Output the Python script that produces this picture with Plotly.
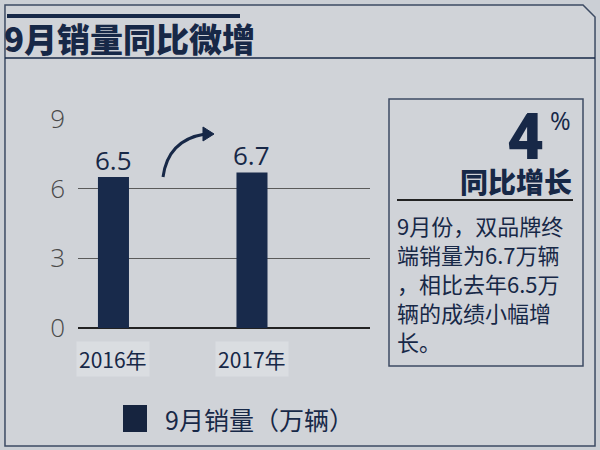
import plotly.graph_objects as go

# data
years = ['2016年', '2017年']
sales = [6.5, 6.7]
value_labels = ['6.5', '6.7']
y_ticks = [0, 3, 6, 9]
series_name = '9月销量（万辆）'
title_text = '9月销量同比微增'
growth_pct = '4'
growth_label = '同比增长'
note_lines = ['9月份，双品牌终', '端销量为6.7万辆', '，相比去年6.5万', '辆的成绩小幅增', '长。']

W, H = 600, 450
NAVY = '#172847'
CJK = 'Noto Sans CJK SC'


def px(x):
    return x / W


def py(y):
    return 1 - y / H


def path(points, close=True):
    s = 'M ' + ' L '.join(f'{px(x):.4f},{py(y):.4f}' for x, y in points)
    return s + (' Z' if close else '')


fig = go.Figure()

fig.add_trace(go.Bar(
    x=years, y=sales,
    marker=dict(color='#182a4b', line=dict(width=0)),
    width=0.224, showlegend=False,
))

shapes = []
# outer frame with the cut corner
shapes.append(dict(type='path', xref='paper', yref='paper',
                   path=path([(5, 5), (583, 5), (595, 17), (595, 446), (5, 446)]),
                   line=dict(color='#3d4b63', width=1.5), fillcolor='#d0d3d8', layer='below'))
# title bars
shapes.append(dict(type='line', xref='paper', yref='paper', x0=px(7), x1=px(240), y0=py(16), y1=py(16),
                   line=dict(color=NAVY, width=4)))
shapes.append(dict(type='line', xref='paper', yref='paper', x0=px(5), x1=px(595), y0=py(58), y1=py(58),
                   line=dict(color=NAVY, width=1.5)))
# right info box
shapes.append(dict(type='rect', xref='paper', yref='paper', x0=px(389), x1=px(583), y0=py(366), y1=py(99),
                   line=dict(color='#3d4b63', width=1.5)))
shapes.append(dict(type='line', xref='paper', yref='paper', x0=px(397), x1=px(573), y0=py(200), y1=py(200),
                   line=dict(color='#222222', width=2)))
# curved arrow
shapes.append(dict(type='path', xref='paper', yref='paper',
                   path=f'M {px(163):.4f},{py(177):.4f} Q {px(168):.4f},{py(140):.4f} {px(205):.4f},{py(134):.4f}',
                   line=dict(color=NAVY, width=3)))
shapes.append(dict(type='path', xref='paper', yref='paper',
                   path=path([(203, 127), (214, 134), (203, 141)]),
                   fillcolor=NAVY, line=dict(color=NAVY, width=1)))
# legend swatch
shapes.append(dict(type='rect', xref='paper', yref='paper', x0=px(123), x1=px(147), y0=py(432), y1=py(405),
                   fillcolor='#16243f', line=dict(width=0)))

annotations = []
annotations.append(dict(text=title_text, x=px(2), y=py(38), xref='paper', yref='paper',
                        xanchor='left', yanchor='middle', showarrow=False,
                        font=dict(size=33, color=NAVY, family=CJK, weight=900)))
# value labels above bars
for yr, v, lab in zip(years, sales, value_labels):
    annotations.append(dict(text=lab, x=yr, y=v, xref='x', yref='y', yshift=17,
                            xanchor='center', yanchor='middle', showarrow=False,
                            font=dict(size=26, color=NAVY, family='Open Sans')))
# category labels
for yr in years:
    annotations.append(dict(text=yr, x=yr, y=0, xref='x', yref='y', yshift=-31,
                            xanchor='center', yanchor='middle', showarrow=False,
                            bgcolor='#dadde1', borderpad=2,
                            font=dict(size=21, color=NAVY, family=CJK)))
annotations.append(dict(text=growth_pct, x=px(546), y=py(137), xref='paper', yref='paper',
                        xanchor='right', yanchor='middle', showarrow=False,
                        font=dict(size=64, color=NAVY, family='Roboto', weight=900)))
annotations.append(dict(text='%', x=px(560), y=py(120), xref='paper', yref='paper',
                        xanchor='center', yanchor='middle', showarrow=False,
                        font=dict(size=25, color=NAVY, family='Open Sans')))
annotations.append(dict(text=growth_label, x=px(574), y=py(181), xref='paper', yref='paper',
                        xanchor='right', yanchor='middle', showarrow=False,
                        font=dict(size=28, color=NAVY, family=CJK, weight=900)))
for i, line in enumerate(note_lines):
    annotations.append(dict(text=line, x=px(395), y=py(225 + i * 29), xref='paper', yref='paper',
                            xanchor='left', yanchor='middle', align='left', showarrow=False,
                            font=dict(size=22, color=NAVY, family=CJK)))
annotations.append(dict(text=series_name, x=px(163), y=py(419), xref='paper', yref='paper',
                        xanchor='left', yanchor='middle', showarrow=False,
                        font=dict(size=25, color=NAVY, family=CJK)))

fig.update_layout(
    width=W, height=H,
    margin=dict(l=0, r=0, t=0, b=0, pad=0, autoexpand=False),
    paper_bgcolor='#cbcfd5', plot_bgcolor='rgba(0,0,0,0)',
    xaxis=dict(domain=[px(78), px(370)], range=[-0.256, 1.852], showticklabels=False,
               showgrid=False, zeroline=False, ticks='', automargin=False),
    yaxis=dict(domain=[py(328), py(119)], range=[0, 9], tickvals=y_ticks,
               showgrid=True, gridcolor='#5a5a5a', gridwidth=1,
               zeroline=True, zerolinecolor='#222222', zerolinewidth=1.5,
               ticks='', ticklabelstandoff=12, automargin=False,
               tickfont=dict(size=26, color='#4a4a4a', family='Open Sans', weight=300)),
    shapes=shapes,
    annotations=annotations,
    showlegend=False,
)

# the page's default body margin would push the figure 8px off the window
fig.write_html('out.html', config={'displayModeBar': False},
               post_script="document.body.style.margin='0';")
